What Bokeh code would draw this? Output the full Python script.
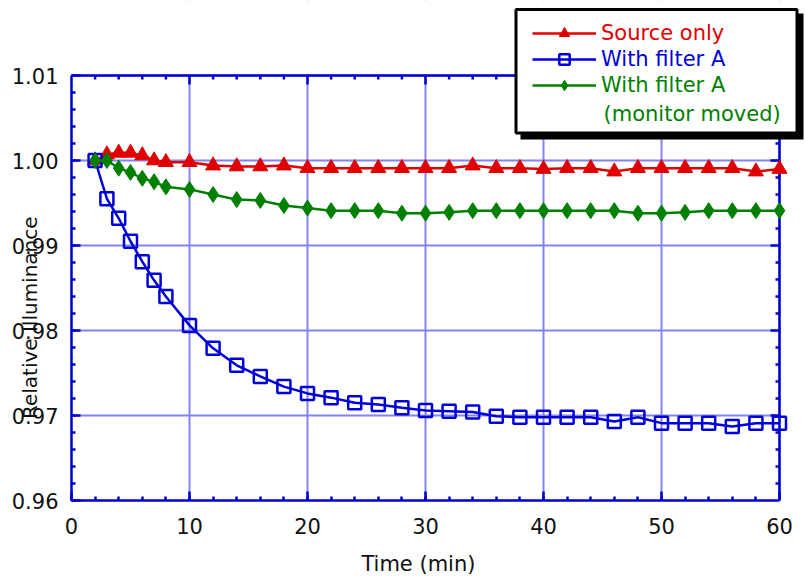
import math
import numpy as np
from bokeh.plotting import figure
from bokeh.models import (LinearAxis, SingleIntervalTicker, FixedTicker, NumeralTickFormatter,
                          Range1d, Legend, LegendItem, BoxAnnotation, Label)
from bokeh.embed import file_html
from bokeh.resources import INLINE

# ---------------- data ----------------
time_src = [2, 3, 4, 5, 6, 7, 8, 10, 12, 14, 16, 18, 20, 22, 24, 26, 28, 30, 32, 34,
            36, 38, 40, 42, 44, 46, 48, 50, 52, 54, 56, 58, 60]
source_only = [1.0000, 1.0007, 1.0009, 1.0009, 1.0006, 1.0000, 0.9998, 0.9998, 0.9994, 0.9993,
               0.9993, 0.9994, 0.9991, 0.9991, 0.9991, 0.9991, 0.9991, 0.9991, 0.9991, 0.9994,
               0.9991, 0.9991, 0.9990, 0.9991, 0.9991, 0.9987, 0.9991, 0.9991, 0.9991, 0.9991,
               0.9991, 0.9987, 0.9990]
filter_a = [1.0000, 0.9955, 0.9932, 0.9905, 0.9881, 0.9859, 0.9840, 0.9806, 0.9779, 0.9759,
            0.9746, 0.9734, 0.9726, 0.9721, 0.9715, 0.9713, 0.9709, 0.9706, 0.9705, 0.9704,
            0.9699, 0.9698, 0.9698, 0.9698, 0.9698, 0.9693, 0.9698, 0.9691, 0.9691, 0.9691,
            0.9687, 0.9691, 0.9691]
filter_a_moved = [1.0000, 1.0000, 0.9991, 0.9986, 0.9979, 0.9975, 0.9969, 0.9966, 0.9960, 0.9954,
                  0.9953, 0.9947, 0.9944, 0.9941, 0.9941, 0.9941, 0.9938, 0.9938, 0.9939, 0.9941,
                  0.9941, 0.9941, 0.9941, 0.9941, 0.9941, 0.9941, 0.9938, 0.9938, 0.9939, 0.9941,
                  0.9941, 0.9941, 0.9941]
series_names = ["Source only", "With filter A", "With filter A"]
note_text = "(monitor moved)"
x_title = "Time (min)"
y_title = "Relative Illuminance"

RED = "#e00000"
BLUE = "#0000d8"
GREEN = "#008000"
AXIS = "#0000d0"
GRID = "#8484f0"
FONT = "DejaVu Sans"

# axis limits of the plotted box
X0, X1 = 0, 60
Y0, Y1 = 0.96, 1.01
# where the axis titles are centred (data units)
X_TITLE_AT = 29.4
Y_TITLE_AT = 0.9815

# page geometry (pixels): the plotting frame reaches the top/right edge so the
# legend box (which sticks out of the axes box) is not clipped
W, H = 805, 581
FL, FR, FT, FB = 71, 779, 75, 500      # where X0, X1, Y1, Y0 sit on the page
DX = (X1 - X0) / (FR - FL)             # data units per pixel
DY = (Y1 - Y0) / (FB - FT)
X_END = X1 + (W - FR) * DX
Y_END = Y1 + FT * DY


def px2x(px):
    return X0 + (px - FL) * DX


def py2y(py):
    return Y1 - (py - FT) * DY


p = figure(width=W, height=H, output_backend="svg", toolbar_location=None,
           x_range=Range1d(X0, X_END), y_range=Range1d(Y0, Y_END),
           min_border_left=FL, min_border_right=0, min_border_top=0, min_border_bottom=H - FB)
p.outline_line_color = None
p.background_fill_color = "white"
p.border_fill_color = "white"

xt = SingleIntervalTicker(interval=10, num_minor_ticks=5)
yt = SingleIntervalTicker(interval=0.01, num_minor_ticks=5)

TICK_W = 2.5
MAJ, MIN = 9, 4


def style_axis(ax):
    ax.axis_line_color = AXIS
    ax.axis_line_width = TICK_W
    ax.major_tick_line_color = AXIS
    ax.minor_tick_line_color = AXIS
    ax.major_tick_line_width = TICK_W
    ax.minor_tick_line_width = TICK_W
    ax.major_tick_in = MAJ
    ax.major_tick_out = 0
    ax.minor_tick_in = MIN
    ax.minor_tick_out = 0
    ax.major_label_text_font = FONT
    ax.major_label_text_font_size = "21px"
    ax.major_label_text_color = "#111111"


xa = p.xaxis[0]
ya = p.yaxis[0]
xa.ticker = xt
ya.ticker = yt
ya.formatter = NumeralTickFormatter(format="0.00")
style_axis(xa)
style_axis(ya)
xa.bounds = (X0, X1)
ya.bounds = (Y0, Y1)
xa.major_label_standoff = 17
ya.major_label_standoff = 13


def title_axis(at, text, size, standoff, orientation):
    ax = LinearAxis(ticker=FixedTicker(ticks=[at]), axis_line_color=None,
                    major_tick_out=0, major_tick_in=0, minor_tick_out=0, minor_tick_in=0,
                    major_label_overrides={at: text}, major_label_standoff=standoff,
                    major_label_orientation=orientation,
                    major_label_text_font=FONT, major_label_text_font_size=size,
                    major_label_text_color="#111111")
    return ax


# axis titles, placed where the original has them (the y title overlaps the tick labels)
p.add_layout(title_axis(X_TITLE_AT, x_title, "21px", 15, "horizontal"), "below")
p.add_layout(title_axis(Y_TITLE_AT, y_title, "20px", -33, "vertical"), "left")

p.xgrid.ticker = xt
p.ygrid.ticker = yt
for g in (p.xgrid[0], p.ygrid[0]):
    g.grid_line_color = GRID
    g.grid_line_width = 2

# white masks so grid lines stop at the axes box
pad = 1.3
p.add_layout(BoxAnnotation(left=X0, right=X_END, bottom=Y1 + pad * DY, top=Y_END,
                           fill_color="white", fill_alpha=1, line_color=None, level="underlay"))
p.add_layout(BoxAnnotation(left=X1 + pad * DX, right=X_END, bottom=Y0, top=Y_END,
                           fill_color="white", fill_alpha=1, line_color=None, level="underlay"))

# top and right sides of the box, ticks pointing inwards
p.segment(x0=[X0, X1], y0=[Y1, Y0], x1=[X1, X1], y1=[Y1, Y1],
          line_color=AXIS, line_width=TICK_W)
top_ticks = [v for v in np.arange(X0 + 2, X1, 2)]
top_len = [MAJ if round(v) % 10 == 0 else MIN for v in top_ticks]
p.segment(x0=top_ticks, y0=[Y1] * len(top_ticks), x1=top_ticks,
          y1=[Y1 - L * DY for L in top_len], line_color=AXIS, line_width=TICK_W)
right_ticks = [round(v, 3) for v in np.arange(Y0 + 0.002, Y1 - 0.001, 0.002)]
right_len = [MAJ if abs(v * 100 - round(v * 100)) < 1e-6 else MIN for v in right_ticks]
p.segment(x0=[X1] * len(right_ticks), y0=right_ticks, x1=[X1 - L * DX for L in right_len],
          y1=right_ticks, line_color=AXIS, line_width=TICK_W)

# ---------------- series ----------------
r_line = p.line(time_src, source_only, line_color=RED, line_width=2.5)
r_mark = p.scatter(time_src, source_only, marker="triangle", size=15,
                   fill_color=RED, line_color=RED)
b_line = p.line(time_src, filter_a, line_color=BLUE, line_width=2.5)
b_mark = p.scatter(time_src, filter_a, marker="square", size=13,
                   fill_color=None, line_color=BLUE, line_width=2.5)
g_line = p.line(time_src, filter_a_moved, line_color=GREEN, line_width=2.5)
g_mark = p.scatter(time_src, filter_a_moved, marker="diamond", size=16,
                   fill_color=GREEN, line_color=GREEN)

# ---------------- legend box ----------------
shadow = BoxAnnotation(left=px2x(520), right=px2x(803), top=py2y(13), bottom=py2y(139),
                       fill_color="black", fill_alpha=1, line_color=None)
box = BoxAnnotation(left=px2x(515.5), right=px2x(796.5), top=py2y(9), bottom=py2y(132.5),
                    fill_color="white", fill_alpha=1, line_color="black", line_width=3,
                    line_alpha=1)
p.add_layout(shadow)
p.add_layout(box)

rows = [(33, series_names[0], [r_line, r_mark], RED),
        (59, series_names[1], [b_line, b_mark], BLUE),
        (85, series_names[2], [g_line, g_mark], GREEN)]
for cy, name, rends, col in rows:
    lg = Legend(items=[LegendItem(label=name, renderers=rends)],
                location=(532 - FL, FB - (cy + 13)),
                glyph_width=64, glyph_height=26, label_standoff=5,
                label_text_font=FONT, label_text_font_size="21px", label_text_color=col,
                padding=0, margin=0, spacing=0, border_line_color=None,
                background_fill_alpha=0, label_height=26)
    p.add_layout(lg, "center")

p.add_layout(Label(x=px2x(603), y=py2y(113), text=note_text, text_font=FONT,
                   text_font_size="21px", text_color=GREEN, text_baseline="middle",
                   text_align="left"))

open("out.html", "w").write(file_html(p, INLINE))
